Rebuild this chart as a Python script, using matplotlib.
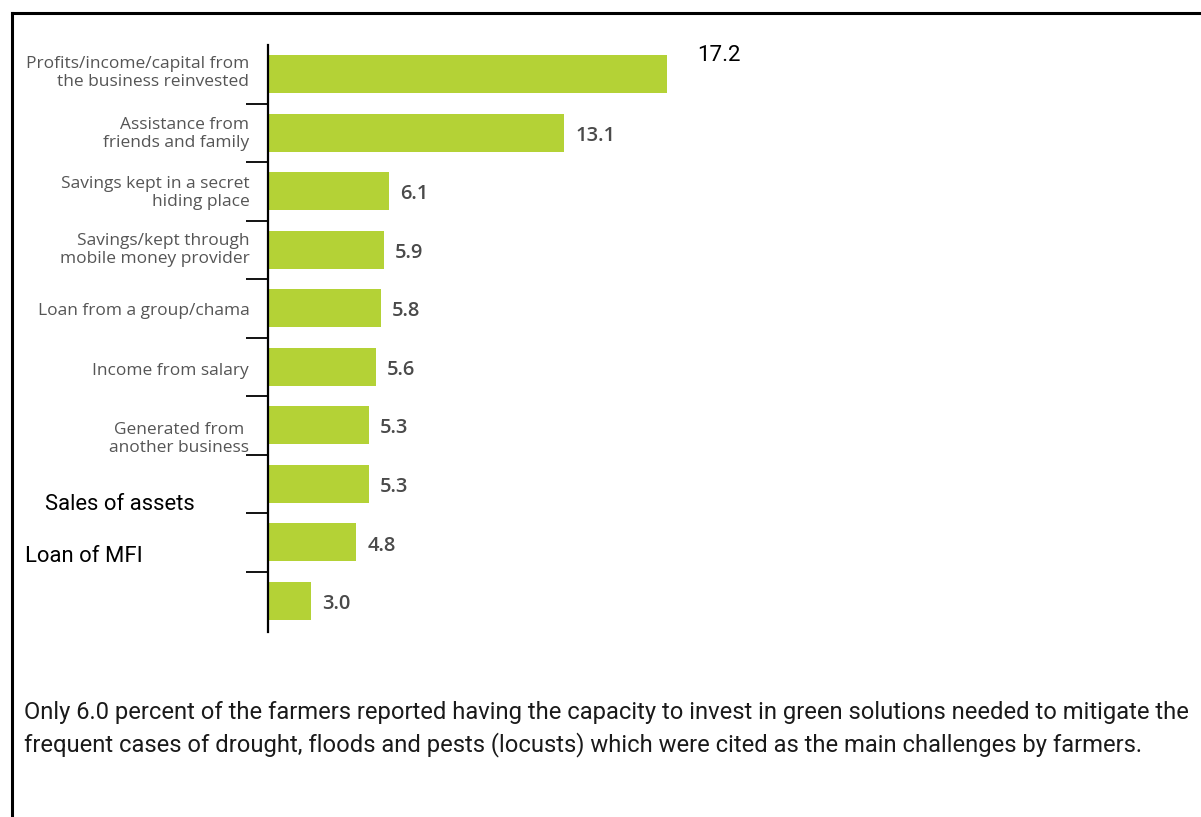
import matplotlib
matplotlib.use("Agg")
import numpy as np
import matplotlib.pyplot as plt
import matplotlib.transforms as mtransforms
from matplotlib.lines import Line2D

# data
categories = [
    "Profits/income/capital from\nthe business reinvested",
    "Assistance from\nfriends and family",
    "Savings kept in a secret\nhiding place",
    "Savings/kept through\nmobile money provider",
    "Loan from a group/chama",
    "Income from salary",
    "Generated from \nanother business",
    "",
    "",
    "",
]
values = [17.2, 13.1, 6.1, 5.9, 5.8, 5.6, 5.3, 5.3, 4.8, 3.0]
side_labels = ["Sales of assets", "Loan of MFI"]
caption = [
    "Only 6.0 percent of the farmers reported having the capacity to invest in green solutions needed to mitigate the",
    "frequent cases of drought, floods and pests (locusts) which were cited as the main challenges by farmers.",
]

BAR = "#b4d236"
GREY = "#555555"
W, H = 1201, 817

fig = plt.figure(figsize=(W / 100, H / 100), dpi=100)

def fx(px):
    return px / W

def fy(py):
    return 1 - py / H

ax = fig.add_axes([fx(268), fy(632), fx(1168) - fx(268), fy(45) - fy(632)])

pos = np.arange(len(values))
ax.barh(pos, values, height=0.65, color=BAR, edgecolor="none")
ax.set_xlim(1.29, 1.29 + 900 / 25.1)
ax.set_ylim(9.53, -0.5)

for s in ["top", "right", "bottom"]:
    ax.spines[s].set_visible(False)
ax.spines["left"].set_linewidth(1.6)
ax.set_xticks([])
ax.set_yticks(pos[:-1] + 0.5)
ax.set_yticklabels([])
ax.tick_params(axis="y", length=16, width=1.3, color="black")

# value labels
for i, v in enumerate(values):
    if i == 0:
        ax.annotate(f"{v:.1f}", (v, i), xytext=(21.5, 13.5), textcoords="offset points",
                    ha="left", va="center", fontsize=16, color="black", family="Roboto")
    else:
        ax.annotate(f"{v:.1f}", (v, i), xytext=(8, -2.2), textcoords="offset points",
                    ha="left", va="center", fontsize=14.5, color="#4a4a4a",
                    family="Open Sans", fontweight="semibold")

# category labels left of the axis
trans = mtransforms.blended_transform_factory(ax.transAxes, ax.transData)
label_dy = [1, -1, -1, 0, -2, -3, -10, 0, 0, 0]
for i, lab in enumerate(categories):
    if not lab:
        continue
    ax.annotate(lab, (0, i), xycoords=trans, xytext=(-13.5, label_dy[i]),
                textcoords="offset points", ha="right", va="center",
                multialignment="right", fontsize=12.5, color=GREY,
                family="Open Sans", linespacing=1.15)

fig.text(fx(45), fy(505), side_labels[0], ha="left", va="center",
         fontsize=15.8, color="black", family="Roboto")
fig.text(fx(25), fy(556), side_labels[1], ha="left", va="center",
         fontsize=15.8, color="black", family="Roboto")

# caption, first line fitted to the page width
t1 = fig.text(fx(24), fy(712), caption[0], ha="left", va="center",
              fontsize=14, color="#1a1a1a", family="Roboto")
r = fig.canvas.get_renderer()
wpx = t1.get_window_extent(r).width
fs = 14 * (1196 - 24) / wpx
t1.set_fontsize(fs)
fig.text(fx(24), fy(745), caption[1], ha="left", va="center",
         fontsize=fs, color="#1a1a1a", family="Roboto")

# page frame
fig.add_artist(Line2D([fx(12), 1], [fy(13), fy(13)], color="black", lw=2.2))
fig.add_artist(Line2D([fx(12), fx(12)], [fy(13), 0], color="black", lw=2.2))

fig.savefig("out.png", dpi=100)
